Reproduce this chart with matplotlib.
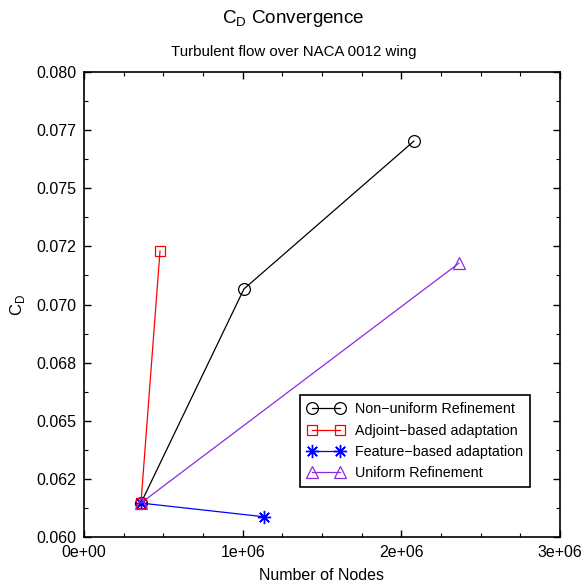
import matplotlib
matplotlib.use("Agg")
import matplotlib.pyplot as plt
from matplotlib.ticker import MultipleLocator, FixedLocator

plt.rcParams['font.family'] = ['Liberation Sans', 'DejaVu Sans']

nonuni_x = [0.359e6, 1.008e6, 2.079e6]
nonuni_y = [0.06146, 0.07067, 0.07703]
adj_x = [0.359e6, 0.479e6]
adj_y = [0.06146, 0.0723]
feat_x = [0.359e6, 1.136e6]
feat_y = [0.06146, 0.06087]
uni_x = [0.359e6, 2.363e6]
uni_y = [0.06146, 0.07178]

yticks = [0.060, 0.0625, 0.065, 0.0675, 0.070, 0.0725, 0.075, 0.0775, 0.080]
ytick_labels = ["0.060", "0.062", "0.065", "0.068", "0.070", "0.072", "0.075", "0.077", "0.080"]
xticks = [0, 1e6, 2e6, 3e6]
xtick_labels = ["0e+00", "1e+06", "2e+06", "3e+06"]

fig = plt.figure(figsize=(5.87, 5.86), dpi=100)
ax = fig.add_axes([0.1431, 0.0836, 0.954 - 0.1431, 0.877 - 0.0836])

lw = 0.9
ax.plot(nonuni_x, nonuni_y, color='black', lw=lw, marker='o', ms=8.5, mfc='none', mew=0.9,
        label='Non\u2212uniform Refinement')
ax.plot(adj_x, adj_y, color='red', lw=lw, marker='s', ms=7.5, mfc='none', mew=0.9,
        label='Adjoint\u2212based adaptation')
ax.plot(feat_x, feat_y, color='blue', lw=lw, marker=(8, 2, 0), ms=9.5, mew=1.0,
        label='Feature\u2212based adaptation')
ax.plot(uni_x, uni_y, color='#8a2be2', lw=lw, marker='^', ms=8.5, mfc='none', mew=0.9,
        label='Uniform Refinement')

ax.set_xlim(0, 3e6)
ax.set_ylim(0.060, 0.080)
ax.xaxis.set_major_locator(FixedLocator(xticks))
ax.set_xticklabels(xtick_labels)
ax.xaxis.set_minor_locator(MultipleLocator(0.25e6))
ax.yaxis.set_major_locator(FixedLocator(yticks))
ax.set_yticklabels(ytick_labels)
ax.yaxis.set_minor_locator(MultipleLocator(0.00125))
ax.tick_params(which='both', direction='in', top=True, right=True, labelsize=11.5)
ax.tick_params(which='major', length=5, width=1)
ax.tick_params(which='minor', length=3, width=0.8)
ax.tick_params(axis='x', which='major', pad=6)
ax.tick_params(axis='y', which='major', pad=5.5)
for s in ax.spines.values():
    s.set_linewidth(1.2)

ax.set_xlabel('Number of Nodes', fontsize=11.5, labelpad=5.5)
ax.set_ylabel('C$_\\mathregular{D}$', fontsize=12, labelpad=7)

fig.text(0.5, 0.968, 'C$_\\mathregular{D}$ Convergence', ha='center', va='center', fontsize=13.6)
fig.text(0.5, 0.911, 'Turbulent flow over NACA 0012 wing', ha='center', va='center', fontsize=10.8)

leg = ax.legend(loc='lower right', bbox_to_anchor=(0.937, 0.1075), numpoints=2, fancybox=False,
                edgecolor='black', framealpha=1, fontsize=10.3, handlelength=2.6,
                borderpad=0.5, labelspacing=0.5, handletextpad=0.7, borderaxespad=0)
leg.get_frame().set_linewidth(1.2)

fig.savefig('out.png', dpi=100)
